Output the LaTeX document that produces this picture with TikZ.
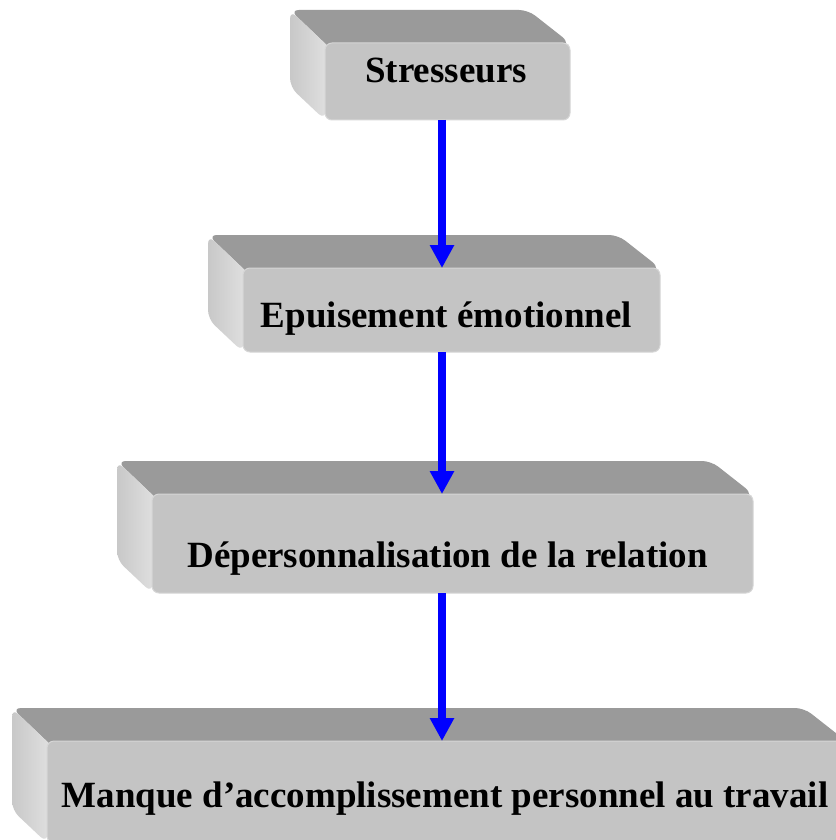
\documentclass[tikz,border=0pt]{standalone}
\usepackage{fontspec}
\setmainfont{Liberation Serif}
\usetikzlibrary{arrows.meta}
\definecolor{frontgray}{RGB}{196,196,196}
\definecolor{frontedge}{RGB}{214,214,214}
\definecolor{topgray}{RGB}{154,154,154}
\definecolor{sidedark}{RGB}{200,200,200}
\definecolor{sidelight}{RGB}{227,227,227}
\definecolor{arrowblue}{RGB}{0,0,255}
\tikzset{
  front/.style={fill=frontgray, draw=frontedge, line width=1pt, rounded corners=7pt, inner sep=0pt, outer sep=0pt},
  topface/.style={fill=topgray, rounded corners=9pt},
  sideface/.style={left color=sidedark, middle color=sidelight, right color=sidelight, rounded corners=9pt},
  lbl/.style={font=\bfseries\fontsize{37}{44}\selectfont, inner sep=0pt, anchor=base},
  arr/.style={draw=arrowblue, line width=8pt, -{Triangle[width=23pt,length=23pt]}},
}
\newcommand\tdbox[5]{%
  \pgfmathsetmacro\bxa{#2-35}%
  \pgfmathsetmacro\bxb{#4-42}%
  \pgfmathsetmacro\bya{#3-33}%
  \pgfmathsetmacro\byb{#5-33}%
  \pgfmathsetmacro\fw{#4-#2}%
  \pgfmathsetmacro\fh{#5-#3}%
  \pgfmathsetmacro\cx{(#2+#4)/2}%
  \pgfmathsetmacro\cy{(#3+#5)/2}%
  \fill[topface] (#2+8,#3+8) -- (\bxa,\bya) -- (\bxb,\bya) -- (#4,#3) -- (#4-8,#3+8) -- cycle;
  \shade[sideface] (\bxa,\bya) -- (\bxa,\byb) -- (#2,#5) -- (#2+8,#3+8) -- cycle;
  \node[front, minimum width=\fw pt, minimum height=\fh pt] (#1) at (\cx,\cy) {};
}
\begin{document}
\begin{tikzpicture}[x=1pt,y=-1pt]
  \useasboundingbox (0,0) rectangle (835,840);
  \fill[white] (0,0) rectangle (835,840);
  \tdbox{b1}{325}{43}{570}{120}
  \node[lbl] (t1) at (446,83) {Stresseurs};
  \tdbox{b2}{243}{268}{660}{352}
  \node[lbl] (t2) at (446.5,327) {Epuisement émotionnel};
  \tdbox{b3}{152}{494}{753}{593}
  \node[lbl] (t3) at (447.5,567) {Dépersonnalisation de la relation};
  \tdbox{b4}{47}{741}{846}{843}
  \node[lbl] (t4) at (445,807) {Manque d’accomplissement personnel au travail};
  \coordinate (ax) at (442,0);
  \draw[arr] (b1.south -| ax) -- (b2.north -| ax);
  \draw[arr] (b2.south -| ax) -- (b3.north -| ax);
  \draw[arr] (b3.south -| ax) -- (b4.north -| ax);
\end{tikzpicture}
\end{document}
